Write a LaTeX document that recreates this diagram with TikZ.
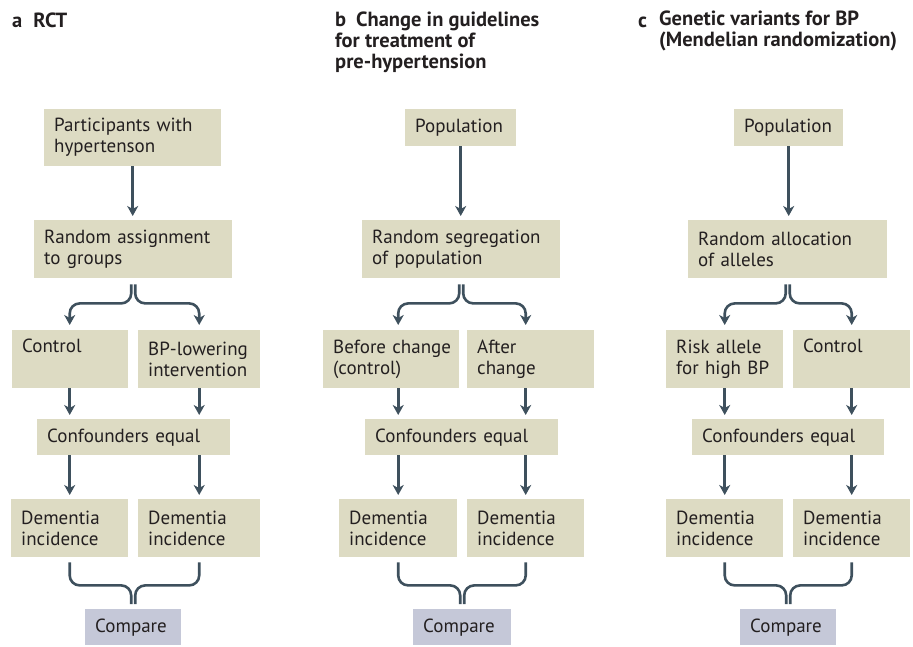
\documentclass[tikz,border=0pt]{standalone}
\usepackage{fontspec}
\setmainfont{PT Sans}
\usetikzlibrary{arrows.meta}

\definecolor{boxfill}{HTML}{DDDBC3}
\definecolor{cmpfill}{HTML}{C5C8D8}
\definecolor{linecol}{HTML}{3E505D}
\definecolor{inkcol}{HTML}{231F20}

\begin{document}
\begin{tikzpicture}[
    x=1pt, y=-1pt, % pixel-like grid, y grows downwards
    box/.style={
        fill=boxfill,
        anchor=north west,
        inner xsep=10pt,
        inner ysep=0pt,
        align=left,
        text=inkcol,
        font=\fontsize{19}{21}\selectfont
    },
    tall/.style={box, minimum height=58pt},
    flat/.style={box, minimum height=36pt},
    cmpbox/.style={flat, fill=cmpfill},
    paneltitle/.style={
        inner sep=0pt,
        align=left,
        text=inkcol,
        font=\bfseries\fontsize{20.5}{21}\selectfont
    },
    arrow/.style={
        draw=linecol,
        line width=2.6pt,
        -{Stealth[length=10pt, width=11pt, inset=3pt]},
        shorten >=4pt
    },
    fork/.style={
        arrow,
        rounded corners=10pt,
        shorten <=6pt,
        shorten >=5pt
    },
    brace/.style={
        draw=linecol,
        line width=2.6pt,
        rounded corners=10pt,
        shorten <=5pt,
        shorten >=5pt
    }
]
    \useasboundingbox (0,0) rectangle (913,646);

    % --- Titles ---
    \node [paneltitle, anchor=base west] (titA) at (12,27) {a\hspace{11pt}RCT};
    \node [paneltitle, anchor=north west] (titB) at (335,12)
        {b\hspace{10pt}Change in guidelines\\for treatment of\\pre-hypertension};
    \node [paneltitle, anchor=base west] (letC) at (638,27) {c};
    \node [paneltitle, anchor=north west] (titC) at (659,11)
        {Genetic variants for BP\\(Mendelian randomization)};

    % --- Panel a: RCT ---
    \node [tall, text width=157pt, minimum height=57pt] (partA) at (44,109) {Participants with\\hypertenson};
    \node [tall, text width=178pt] (randA) at (34,220) {Random assignment\\to groups};
    \node [tall, text width=96pt] (ctrlA) at (12,330) {Control\\\strut};
    \node [tall, text width=102pt] (bpA) at (138,330) {BP-lowering\\intervention};
    \node [flat, text width=173pt] (confA) at (37,419) {Confounders equal};
    \node [tall, text width=97pt] (demA1) at (11,499) {Dementia\\incidence};
    \node [tall, text width=102pt] (demA2) at (138,499) {Dementia\\incidence};
    \node [cmpbox, text width=76pt] (cmpA) at (85,609) {Compare};

    % --- Panel b: guideline change ---
    \node [flat, text width=91pt, minimum height=37pt] (popB) at (405,109) {Population};
    \node [tall, text width=178pt] (randB) at (362,220) {Random segregation\\of population};
    \node [tall, text width=116pt] (befB) at (323,330) {Before~change\\(control)};
    \node [tall, text width=107pt] (aftB) at (467,330) {After\\change};
    \node [flat, text width=173pt] (confB) at (365,419) {Confounders equal};
    \node [tall, text width=98pt] (demB1) at (339,499) {Dementia\\incidence};
    \node [tall, text width=97pt] (demB2) at (467,499) {Dementia\\incidence};
    \node [cmpbox, text width=78pt] (cmpB) at (413,609) {Compare};

    % --- Panel c: Mendelian randomization ---
    \node [flat, text width=89pt, minimum height=37pt] (popC) at (734,109) {Population};
    \node [tall, text width=179pt] (randC) at (688,220) {Random allocation\\of alleles};
    \node [tall, text width=97pt] (riskC) at (666,330) {Risk allele\\for high BP};
    \node [tall, text width=97pt] (ctrlC) at (793,330) {Control\\\strut};
    \node [flat, text width=172pt] (confC) at (692,419) {Confounders equal};
    \node [tall, text width=97pt] (demC1) at (666,499) {Dementia\\incidence};
    \node [tall, text width=97pt] (demC2) at (793,499) {Dementia\\incidence};
    \node [cmpbox, text width=76pt] (cmpC) at (740,609) {Compare};

    % --- Connections, panel a ---
    \draw [arrow] (partA.south) -- (partA.south |- randA.north);
    \draw [fork] ([xshift=-2pt]randA.south) -- ++(0,25) -| (ctrlA.north -| demA1);
    \draw [fork] ([xshift=2pt]randA.south) -- ++(0,25) -| (bpA.north -| demA2);
    \draw [arrow] (ctrlA.south -| demA1) -- (confA.north -| demA1);
    \draw [arrow] (bpA.south -| demA2) -- (confA.north -| demA2);
    \draw [arrow] (confA.south -| demA1) -- (demA1.north);
    \draw [arrow] (confA.south -| demA2) -- (demA2.north);
    \draw [brace] (demA1.south) -- ++(0,28) -| ([xshift=-2pt]cmpA.north);
    \draw [brace] (demA2.south) -- ++(0,28) -| ([xshift=2pt]cmpA.north);

    % --- Connections, panel b ---
    \draw [arrow] (popB.south) -- (popB.south |- randB.north);
    \draw [fork] ([xshift=-2pt]randB.south) -- ++(0,25) -| (befB.north -| demB1);
    \draw [fork] ([xshift=2pt]randB.south) -- ++(0,25) -| (aftB.north -| demB2);
    \draw [arrow] (befB.south -| demB1) -- (confB.north -| demB1);
    \draw [arrow] (aftB.south -| demB2) -- (confB.north -| demB2);
    \draw [arrow] (confB.south -| demB1) -- (demB1.north);
    \draw [arrow] (confB.south -| demB2) -- (demB2.north);
    \draw [brace] (demB1.south) -- ++(0,28) -| ([xshift=-2pt]cmpB.north);
    \draw [brace] (demB2.south) -- ++(0,28) -| ([xshift=2pt]cmpB.north);

    % --- Connections, panel c ---
    \draw [arrow] (popC.south) -- (popC.south |- randC.north);
    \draw [fork] ([xshift=-2pt]randC.south) -- ++(0,25) -| (riskC.north -| demC1);
    \draw [fork] ([xshift=2pt]randC.south) -- ++(0,25) -| (ctrlC.north -| demC2);
    \draw [arrow] (riskC.south -| demC1) -- (confC.north -| demC1);
    \draw [arrow] (ctrlC.south -| demC2) -- (confC.north -| demC2);
    \draw [arrow] (confC.south -| demC1) -- (demC1.north);
    \draw [arrow] (confC.south -| demC2) -- (demC2.north);
    \draw [brace] (demC1.south) -- ++(0,28) -| ([xshift=-2pt]cmpC.north);
    \draw [brace] (demC2.south) -- ++(0,28) -| ([xshift=2pt]cmpC.north);

\end{tikzpicture}
\end{document}
